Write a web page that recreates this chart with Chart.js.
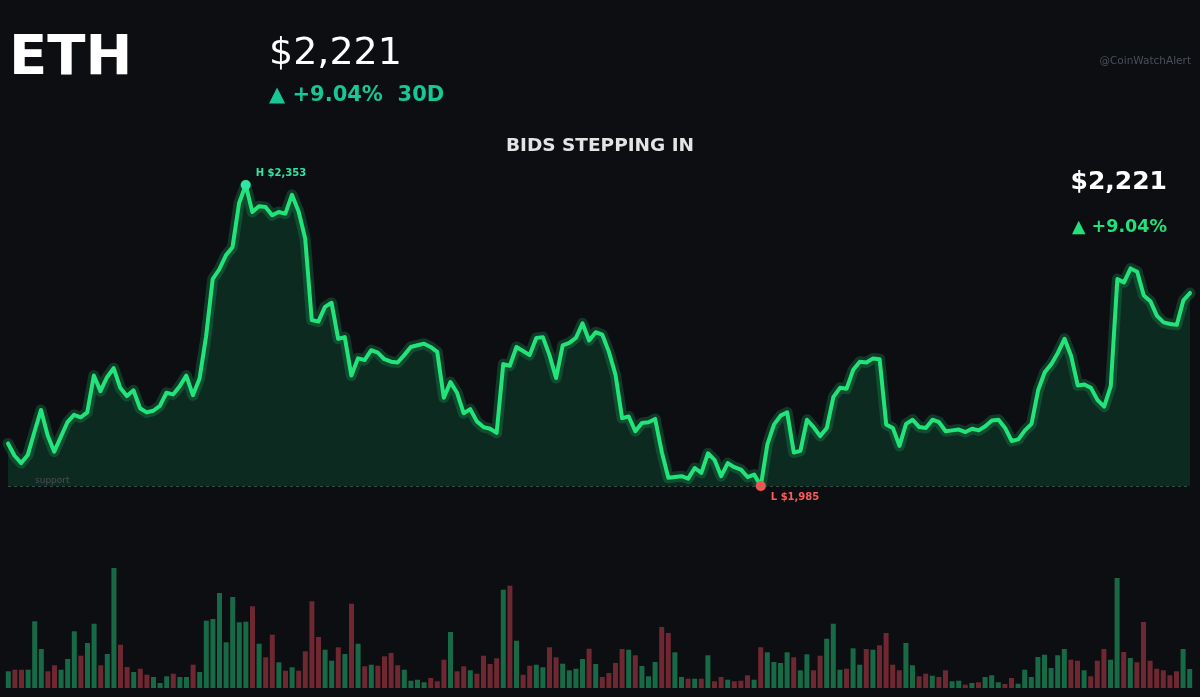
<!DOCTYPE html>
<html>
<head>
<meta charset="utf-8">
<script src="https://cdn.jsdelivr.net/npm/chart.js@4.4.1/dist/chart.umd.min.js"></script>
<style>
  html, body { margin: 0; padding: 0; background: #0c0e12; }
  #wrap { position: relative; width: 1200px; height: 697px; overflow: hidden; font-family: "DejaVu Sans", sans-serif; }
  #wrap canvas { position: absolute; left: 0; top: 0; }
  .txt { position: absolute; line-height: 1; white-space: pre; }
  #sym { left: 9px; top: 27px; font-size: 56px; font-weight: bold; color: #ffffff; }
  #price { left: 269px; top: 32px; font-size: 38px; color: #ffffff; }
  #chg { left: 269px; top: 84px; font-size: 21px; font-weight: bold; color: #18c796; }
  #title { left: 0; width: 1200px; text-align: center; top: 136px; font-size: 18.5px; font-weight: bold; color: #e4e4e4; }
  #handle { right: 9px; top: 55px; font-size: 10.5px; color: #4b5058; }
  #rprice { right: 33px; top: 168px; font-size: 25px; font-weight: bold; color: #ffffff; }
  #rchg { right: 33px; top: 218px; font-size: 17.5px; font-weight: bold; color: #22e07a; }
</style>
</head>
<body>
<div id="wrap">
  <canvas id="volChart" width="1200" height="697"></canvas>
  <canvas id="priceChart" width="1200" height="697"></canvas>
  <div class="txt" id="sym">ETH</div>
  <div class="txt" id="price">$2,221</div>
  <div class="txt" id="chg">▲ +9.04%  30D</div>
  <div class="txt" id="title">BIDS STEPPING IN</div>
  <div class="txt" id="handle">@CoinWatchAlert</div>
  <div class="txt" id="rprice">$2,221</div>
  <div class="txt" id="rchg">▲ +9.04%</div>
</div>
<script>
// 30 days of 4h closes (USD)
const prices = [
  2037, 2022, 2013, 2023, 2051, 2078, 2047, 2027, 2045, 2063,
  2072, 2069, 2075, 2120, 2101, 2118, 2129, 2105, 2095, 2102,
  2080, 2075, 2077, 2083, 2099, 2097, 2107, 2120, 2096, 2116,
  2168, 2238, 2250, 2267, 2277, 2331, 2353, 2320, 2327, 2326,
  2316, 2320, 2318, 2341, 2321, 2288, 2188, 2186, 2204, 2209,
  2165, 2167, 2120, 2141, 2139, 2151, 2148, 2140, 2137, 2136,
  2145, 2155, 2157, 2159, 2155, 2149, 2093, 2112, 2099, 2074,
  2079, 2064, 2057, 2055, 2050, 2134, 2132, 2155, 2150, 2145,
  2166, 2167, 2145, 2117, 2157, 2160, 2166, 2184, 2163, 2173,
  2170, 2149, 2121, 2068, 2070, 2052, 2062, 2063, 2067, 2027,
  1995, 1996, 1997, 1994, 2007, 2001, 2025, 2017, 1997, 2013,
  2008, 2005, 1996, 1999, 1985, 2036, 2060, 2071, 2075, 2026,
  2028, 2066, 2057, 2046, 2056, 2094, 2105, 2104, 2127, 2137,
  2136, 2141, 2140, 2060, 2056, 2034, 2061, 2066, 2057, 2056,
  2066, 2063, 2052, 2053, 2054, 2051, 2055, 2053, 2058, 2065,
  2066, 2056, 2040, 2042, 2053, 2061, 2102, 2124, 2134, 2148,
  2165, 2144, 2108, 2109, 2105, 2090, 2082, 2107, 2238, 2234,
  2251, 2247, 2218, 2211, 2193, 2185, 2183, 2182, 2212, 2221
];

// volume per candle (relative units)
const volumes = [
  167, 183, 183, 183, 667, 390, 167, 227, 183, 290,
  567, 323, 450, 643, 227, 340, 1200, 433, 210, 160,
  193, 133, 110, 50, 117, 143, 110, 110, 233, 160,
  673, 690, 950, 457, 910, 657, 663, 817, 443, 307,
  533, 257, 173, 207, 173, 367, 867, 510, 383, 273,
  407, 340, 843, 443, 217, 233, 223, 317, 350, 227,
  183, 73, 83, 57, 100, 67, 283, 560, 167, 217,
  177, 143, 323, 240, 297, 983, 1023, 473, 133, 223,
  233, 207, 407, 307, 243, 177, 193, 290, 393, 240,
  110, 150, 250, 390, 383, 327, 220, 117, 260, 610,
  550, 357, 110, 93, 93, 93, 327, 67, 110, 83,
  67, 73, 127, 83, 407, 357, 260, 250, 357, 307,
  177, 337, 177, 323, 493, 643, 183, 193, 397, 233,
  390, 383, 427, 550, 233, 177, 450, 227, 117, 143,
  123, 110, 177, 67, 73, 33, 50, 57, 110, 127,
  57, 40, 100, 43, 183, 110, 310, 333, 200, 327,
  390, 283, 273, 177, 117, 273, 390, 283, 1100, 360,
  300, 257, 660, 273, 193, 177, 127, 167, 390, 190
];

const labels = prices.map((_, i) => i);
const hiIdx = prices.indexOf(Math.max(...prices));
const loIdx = prices.indexOf(Math.min(...prices));
const hiVal = prices[hiIdx];
const loVal = prices[loIdx];

const LINE = '#22e47a';
const UP = '#176a45';
const DOWN = '#6f2731';

const fmt = v => '$' + v.toLocaleString('en-US');

// dashed support line + H/L labels
const marks = {
  id: 'marks',
  afterDatasetsDraw(chart) {
    const { ctx, chartArea, scales } = chart;
    const y = scales.y.getPixelForValue(loVal);
    ctx.save();
    ctx.strokeStyle = 'rgba(90,130,110,0.55)';
    ctx.lineWidth = 1;
    ctx.setLineDash([3, 3]);
    ctx.beginPath();
    ctx.moveTo(chartArea.left, y + 0.5);
    ctx.lineTo(chartArea.right, y + 0.5);
    ctx.stroke();
    ctx.setLineDash([]);
    ctx.font = '9px "DejaVu Sans"';
    ctx.fillStyle = '#4a4f55';
    ctx.textBaseline = 'middle';
    ctx.fillText('support', chartArea.left + 27, y - 5);

    ctx.font = 'bold 10px "DejaVu Sans"';
    const hx = scales.x.getPixelForValue(hiIdx);
    const hy = scales.y.getPixelForValue(hiVal);
    ctx.fillStyle = '#2fe6a2';
    ctx.fillText('H ' + fmt(hiVal), hx + 10, hy - 12);
    const lx = scales.x.getPixelForValue(loIdx);
    ctx.fillStyle = '#ff5a5a';
    ctx.fillText('L ' + fmt(loVal), lx + 10, y + 11);
    ctx.restore();
  }
};

new Chart(document.getElementById('priceChart'), {
  type: 'line',
  data: {
    labels: labels,
    datasets: [
      {
        data: prices,
        borderColor: LINE,
        borderWidth: 4,
        borderJoinStyle: 'round',
        borderCapStyle: 'round',
        backgroundColor: 'rgba(20,170,100,0.18)',
        fill: 'start',
        tension: 0,
        clip: false,
        pointRadius: prices.map((_, i) => (i === hiIdx || i === loIdx) ? 5 : 0),
        pointBackgroundColor: prices.map((_, i) => i === loIdx ? '#ff4f4f' : '#2fe6a2'),
        pointBorderWidth: 0,
        order: 0
      },
      {
        // soft glow under the line
        data: prices,
        borderColor: 'rgba(34,226,122,0.2)',
        borderWidth: 11,
        borderJoinStyle: 'round',
        borderCapStyle: 'round',
        fill: false,
        tension: 0,
        clip: false,
        pointRadius: 0,
        order: 1
      }
    ]
  },
  options: {
    responsive: false,
    animation: false,
    layout: { padding: { left: 8, right: 10, top: 185, bottom: 211 } },
    plugins: { legend: { display: false }, tooltip: { enabled: false } },
    scales: {
      x: { display: false },
      y: { display: false, min: loVal, max: hiVal }
    }
  },
  plugins: [marks]
});

new Chart(document.getElementById('volChart'), {
  type: 'bar',
  data: {
    labels: labels,
    datasets: [{
      data: volumes,
      backgroundColor: volumes.map((_, i) => (i === 0 || prices[i] >= prices[i - 1]) ? UP : DOWN),
      barPercentage: 0.76,
      categoryPercentage: 1.0
    }]
  },
  options: {
    responsive: false,
    animation: false,
    layout: { padding: { left: 5, right: 7, top: 568, bottom: 9 } },
    plugins: { legend: { display: false }, tooltip: { enabled: false } },
    scales: {
      x: { display: false },
      y: { display: false, min: 0, max: 1200 }
    }
  }
});
</script>
</body>
</html>
